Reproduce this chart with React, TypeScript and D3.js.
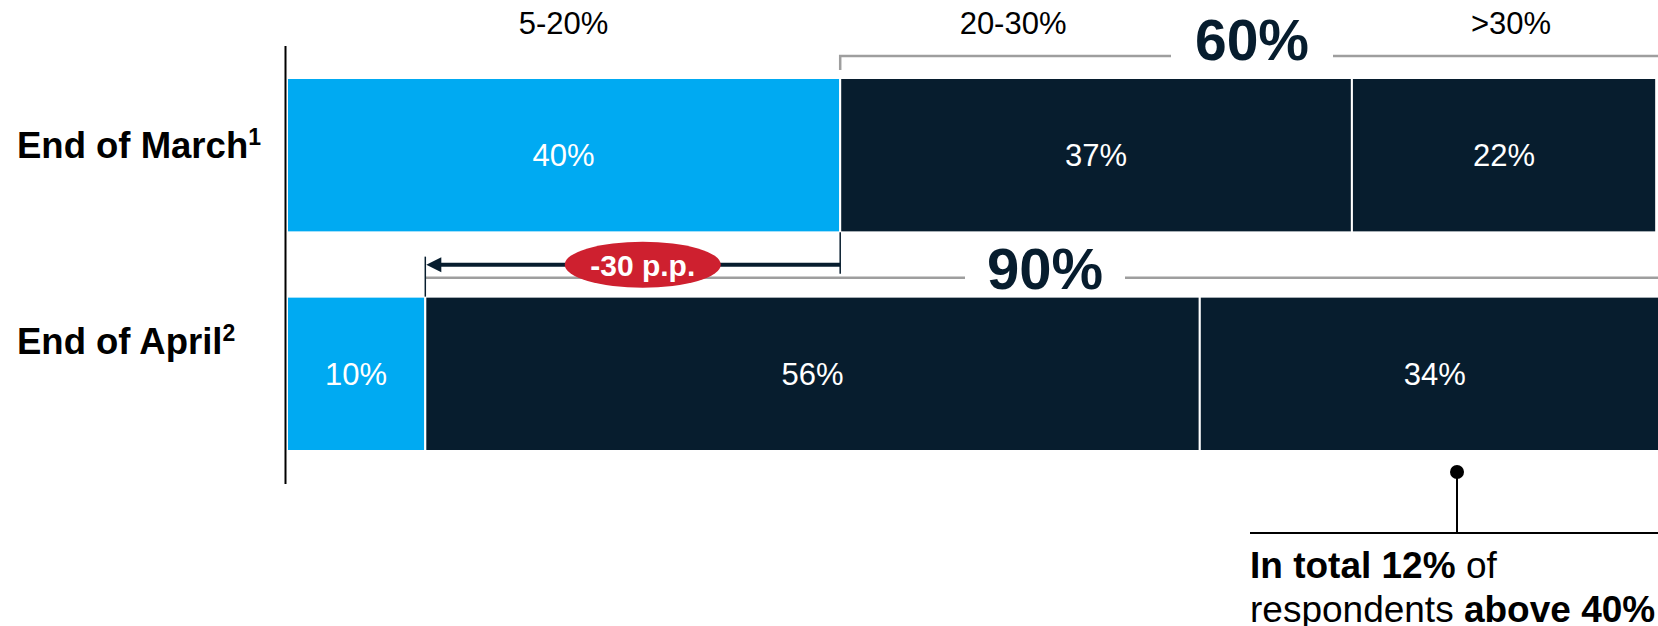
import React from "react";
import * as d3 from "d3";

const rows = ["End of March", "End of April"];
const rowNotes = ["1", "2"];
const bandLabels = ["5-20%", "20-30%", ">30%"];
const marchValues = [40, 37, 22];
const aprilValues = [10, 56, 34];
const bracketLabels = ["60%", "90%"];
const changeLabel = "-30 p.p.";
const calloutLine1Bold = "In total 12%";
const calloutLine1Rest = " of";
const calloutLine2Rest = "respondents ";
const calloutLine2Bold = "above 40%";

const W = 1658;
const H = 626;
const BLUE = "#00AAF2";
const NAVY = "#071D2E";
const GRAY = "#9e9e9e";
const RED = "#CE202F";
const FONT = "'Liberation Sans', Arial, sans-serif";

export default function App() {
  const x = d3.scaleLinear().domain([0, 100]).range([287, 1670]);
  const y = d3.scaleBand<string>().domain(rows).range([78, 451]).paddingInner(0.294).paddingOuter(0);
  const bw = y.bandwidth();
  const series = [marchValues, aprilValues];

  const segs = series.map((vals) => {
    let acc = 0;
    return vals.map((v, i) => {
      const s = { x0: acc, x1: acc + v, v, i };
      acc += v;
      return s;
    });
  });

  const yM = y(rows[0])!;
  const yA = y(rows[1])!;
  const headerX = [x(marchValues[0] / 2), x(marchValues[0] + 12.5), x(marchValues[0] + marchValues[1] + marchValues[2] / 2 + 0.5)];

  // bracket 1 (60%)
  const b1x = x(marchValues[0]);
  const b1y = yM - 22;
  const b1cx = 1252;
  // bracket 2 (90%)
  const b2x = x(aprilValues[0]);
  const b2y = yA - 19;
  const b2cx = 1045;
  // arrow
  const arrowY = yA - 32;
  const arrowX1 = x(marchValues[0]);
  const arrowX0 = x(aprilValues[0]);
  const ellCx = (arrowX0 + arrowX1) / 2 + 10;

  // callout
  const calloutX = x(84.6);
  const dotY = yA + bw + 21;
  const hLineY = yA + bw + 82;

  const labelBaselines = [yM + 80, yA + 57];

  return (
    <svg width={W} height={H} style={{ position: "absolute", left: 0, top: 0 }} fontFamily={FONT}>
      <rect width={W} height={H} fill="#fff" />
      {/* header labels */}
      {bandLabels.map((t, i) => (
        <text key={t} x={headerX[i]} y={34} textAnchor="middle" fontSize={31} fill="#000">
          {t}
        </text>
      ))}

      {/* bars */}
      {segs.map((row, r) =>
        row.map((s) => (
          <g key={`${r}-${s.i}`}>
            <rect
              x={x(s.x0)}
              y={y(rows[r])!}
              width={x(s.x1) - x(s.x0)}
              height={bw}
              fill={s.i === 0 ? BLUE : NAVY}
              stroke="#fff"
              strokeWidth={2}
            />
            <text
              x={x((s.x0 + s.x1) / 2)}
              y={y(rows[r])! + bw / 2 + 11}
              textAnchor="middle"
              fontSize={31}
              fill="#fff"
            >
              {s.v}%
            </text>
          </g>
        ))
      )}

      {/* axis line */}
      <line x1={285.5} x2={285.5} y1={46} y2={484} stroke="#000" strokeWidth={2} />

      {/* row labels */}
      {rows.map((r, i) => (
        <text key={r} x={17} y={labelBaselines[i]} fontSize={36.5} fontWeight="bold" fill="#000">
          {r}
          <tspan fontSize={23} dy={-13}>{rowNotes[i]}</tspan>
        </text>
      ))}

      {/* bracket 60% */}
      <path d={`M${b1x},${b1y + 14}V${b1y}H${b1cx - 81}`} fill="none" stroke={GRAY} strokeWidth={2.5} />
      <line x1={b1cx + 81} x2={W} y1={b1y} y2={b1y} stroke={GRAY} strokeWidth={2.5} />
      <text x={b1cx} y={b1y + 4} textAnchor="middle" fontSize={57} fontWeight="bold" fill={NAVY}>
        {bracketLabels[0]}
      </text>

      {/* bracket 90% */}
      <line x1={b2x} x2={b2cx - 80} y1={b2y} y2={b2y} stroke={GRAY} strokeWidth={2.5} />
      <line x1={b2cx + 80} x2={W} y1={b2y} y2={b2y} stroke={GRAY} strokeWidth={2.5} />
      <text x={b2cx} y={b2y + 11} textAnchor="middle" fontSize={58} fontWeight="bold" fill={NAVY}>
        {bracketLabels[1]}
      </text>

      {/* change arrow */}
      <line x1={arrowX1} x2={arrowX1} y1={yM + bw} y2={arrowY + 9} stroke={NAVY} strokeWidth={1.5} />
      <line x1={arrowX0} x2={arrowX0} y1={arrowY - 8} y2={yA} stroke={NAVY} strokeWidth={1.5} />
      <line x1={arrowX1} x2={arrowX0 + 12} y1={arrowY} y2={arrowY} stroke={NAVY} strokeWidth={4} />
      <path d={`M${arrowX0 + 1},${arrowY}L${arrowX0 + 16},${arrowY - 7.5}L${arrowX0 + 16},${arrowY + 7.5}Z`} fill={NAVY} />
      <ellipse cx={ellCx} cy={arrowY} rx={78} ry={23} fill={RED} />
      <text x={ellCx} y={arrowY + 11} textAnchor="middle" fontSize={30} fontWeight="bold" fill="#fff">
        {changeLabel}
      </text>

      {/* callout */}
      <circle cx={calloutX} cy={dotY} r={7} fill="#000" />
      <line x1={calloutX} x2={calloutX} y1={dotY} y2={hLineY} stroke="#000" strokeWidth={2} />
      <line x1={1250} x2={W} y1={hLineY} y2={hLineY} stroke="#000" strokeWidth={2} />
      <text x={1250} y={hLineY + 45} fontSize={37} fill="#000">
        <tspan fontWeight="bold">{calloutLine1Bold}</tspan>
        <tspan>{calloutLine1Rest}</tspan>
      </text>
      <text x={1250} y={hLineY + 89} fontSize={37} fill="#000">
        <tspan>{calloutLine2Rest}</tspan>
        <tspan fontWeight="bold">{calloutLine2Bold}</tspan>
      </text>
    </svg>
  );
}
